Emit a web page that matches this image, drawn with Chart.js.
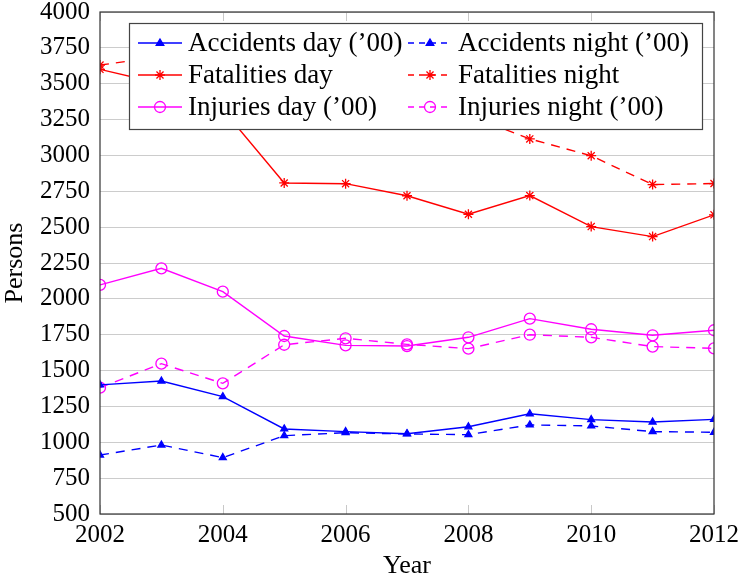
<!DOCTYPE html>
<html>
<head>
<meta charset="utf-8">
<script src="https://cdn.jsdelivr.net/npm/chart.js@4/dist/chart.umd.min.js"></script>
<style>
  html, body { margin: 0; padding: 0; background: #fff; }
  #wrap { width: 742px; height: 582px; position: relative; }
</style>
</head>
<body>
<div id="wrap"><canvas id="chart"></canvas></div>
<script>
// values
var years = [2002, 2003, 2004, 2005, 2006, 2007, 2008, 2009, 2010, 2011, 2012];
var accidentsDay   = [1400, 1427, 1318, 1093, 1074, 1060, 1108, 1199, 1158, 1141, 1160];
var accidentsNight = [911, 981, 893, 1046, 1067, 1058, 1053, 1121, 1114, 1074, 1070];
var fatalitiesDay   = [3600, 3500, 3320, 2808, 2803, 2719, 2590, 2720, 2504, 2434, 2586];
var fatalitiesNight = [3630, 3690, 3560, 3420, 3380, 3330, 3280, 3115, 2998, 2797, 2804];
var injuriesDay   = [2097, 2213, 2050, 1741, 1676, 1671, 1732, 1862, 1788, 1746, 1781];
var injuriesNight = [1381, 1548, 1411, 1680, 1725, 1683, 1653, 1750, 1732, 1667, 1655];
var labels = ["Accidents day (\u201900)", "Accidents night (\u201900)", "Fatalities day", "Fatalities night", "Injuries day (\u201900)", "Injuries night (\u201900)"];
var yMin = 500, yMax = 4000, yStep = 250;
var xMin = 2002, xMax = 2012, xStep = 2;

var BLUE = '#0000ff', RED = '#ff0000', MAG = '#ff00ff';
var FONT = "'Liberation Serif', 'Times New Roman', serif";
var DASH = [9, 7];

function pts(arr){
	var out = [];
	for (var i=0;i<years.length;i++) out.push({x: years[i], y: arr[i]});
	return out;
}

function mk(label, arr, color, dashed, style){
	var ds = {
		label: label,
		data: pts(arr),
		borderColor: color,
		backgroundColor: color,
		borderWidth: 1.4,
		borderDash: dashed ? DASH : [],
		pointStyle: style,
		pointRadius: 4,
		pointBorderWidth: 1.3,
		pointBorderColor: color,
		pointBackgroundColor: color,
		tension: 0,
		fill: false
	};
	if (style == 'circle'){
		ds.pointRadius = 5.5;
		ds.pointBackgroundColor = 'rgba(0,0,0,0)';
	}
	if (style == 'star'){
		ds.pointRadius = 5;
	}
	return ds;
}

var datasets = [
	mk(labels[0], accidentsDay,   BLUE, false, 'triangle'),
	mk(labels[1], accidentsNight, BLUE, true,  'triangle'),
	mk(labels[2], fatalitiesDay,   RED, false, 'star'),
	mk(labels[3], fatalitiesNight, RED, true,  'star'),
	mk(labels[4], injuriesDay,   MAG, false, 'circle'),
	mk(labels[5], injuriesNight, MAG, true,  'circle')
];

// draws a marker for the legend samples
function marker(ctx, ds, x, y){
	ctx.save();
	ctx.setLineDash([]);
	ctx.strokeStyle = ds.borderColor;
	ctx.fillStyle = ds.pointBackgroundColor;
	ctx.lineWidth = ds.pointBorderWidth;
	var r = ds.pointRadius;
	ctx.beginPath();
	if (ds.pointStyle == 'triangle'){
		ctx.moveTo(x, y - r);
		ctx.lineTo(x + r*0.95, y + r*0.6);
		ctx.lineTo(x - r*0.95, y + r*0.6);
		ctx.closePath();
		ctx.fill(); ctx.stroke();
	} else if (ds.pointStyle == 'circle'){
		ctx.arc(x, y, r, 0, Math.PI*2);
		ctx.stroke();
	} else {
		for (var a=0;a<4;a++){
			var t = a*Math.PI/4;
			ctx.moveTo(x - Math.cos(t)*r, y - Math.sin(t)*r);
			ctx.lineTo(x + Math.cos(t)*r, y + Math.sin(t)*r);
		}
		ctx.stroke();
	}
	ctx.restore();
}

var boxPlugin = {
	id: 'boxPlugin',
	afterDraw: function(chart){
		var ctx = chart.ctx, a = chart.chartArea;
		var xs = chart.scales.x;
		ctx.save();
		// inner tick marks on x (top and bottom)
		ctx.strokeStyle = '#c8c8c8';
		ctx.lineWidth = 1;
		for (var v = xMin; v <= xMax; v += xStep){
			var px = Math.round(xs.getPixelForValue(v)) + 0.5;
			ctx.beginPath();
			ctx.moveTo(px, a.bottom); ctx.lineTo(px, a.bottom - 9);
			ctx.moveTo(px, a.top); ctx.lineTo(px, a.top + 9);
			ctx.stroke();
		}
		// axis box
		ctx.strokeStyle = '#333';
		ctx.lineWidth = 1.2;
		ctx.strokeRect(a.left, a.top, a.right - a.left, a.bottom - a.top);

		// legend
		var lx = 129, ly = 23, lw = 573, lh = 106;
		ctx.fillStyle = '#fff';
		ctx.fillRect(lx, ly, lw, lh);
		ctx.strokeStyle = '#444';
		ctx.lineWidth = 1.2;
		ctx.strokeRect(lx + 0.5, ly + 0.5, lw, lh);
		var cols = [138, 408];
		var rowY = [43, 75, 107];
		ctx.font = '27px ' + FONT;
		ctx.textBaseline = 'middle';
		for (var i=0;i<datasets.length;i++){
			var ds = datasets[i];
			var c = i % 2, r = Math.floor(i/2);
			var x0 = cols[c], y0 = rowY[r];
			ctx.save();
			ctx.strokeStyle = ds.borderColor;
			ctx.lineWidth = ds.borderWidth;
			ctx.setLineDash(ds.borderDash.length ? [6, 5] : []);
			ctx.beginPath();
			ctx.moveTo(x0, y0); ctx.lineTo(x0 + 44, y0);
			ctx.stroke();
			ctx.restore();
			marker(ctx, ds, x0 + 22, y0);
			ctx.fillStyle = '#000';
			ctx.fillText(ds.label, x0 + 50, y0 + 1);
		}
		ctx.restore();
	}
};

var ctx = document.getElementById('chart').getContext('2d');
var myChart = new Chart(ctx, {
	type: 'line',
	data: { datasets: datasets },
	options: {
		responsive: true,
		maintainAspectRatio: false,
		animation: false,
		layout: { padding: { left: 0, right: 28, top: 12, bottom: 0 } },
		plugins: {
			legend: { display: false },
			tooltip: { enabled: false }
		},
		scales: {
			x: {
				type: 'linear',
				min: xMin, max: xMax,
				ticks: {
					stepSize: xStep,
					padding: 6,
					color: '#000',
					font: { family: FONT, size: 25 },
					callback: function(v){ return String(v); }
				},
				grid: { display: false, drawTicks: false },
				border: { display: false },
				title: {
					display: true, text: 'Year', color: '#000',
					font: { family: FONT, size: 26 },
					padding: { top: 0, bottom: 0 }
				},
				afterFit: function(s){ s.height = 68; s.paddingLeft = 0; s.paddingRight = 0; }
			},
			y: {
				min: yMin, max: yMax,
				ticks: {
					stepSize: yStep,
					padding: 10,
					color: '#000',
					font: { family: FONT, size: 25 },
					callback: function(v){ return String(v); }
				},
				grid: { color: '#cccccc', lineWidth: 1, drawTicks: false },
				border: { display: false },
				title: {
					display: true, text: 'Persons', color: '#000',
					font: { family: FONT, size: 26 },
					padding: { top: 0, bottom: 0 }
				},
				afterFit: function(s){ s.width = 100; s.paddingTop = 0; s.paddingBottom = 0; }
			}
		}
	},
	plugins: [boxPlugin]
});
</script>
</body>
</html>
